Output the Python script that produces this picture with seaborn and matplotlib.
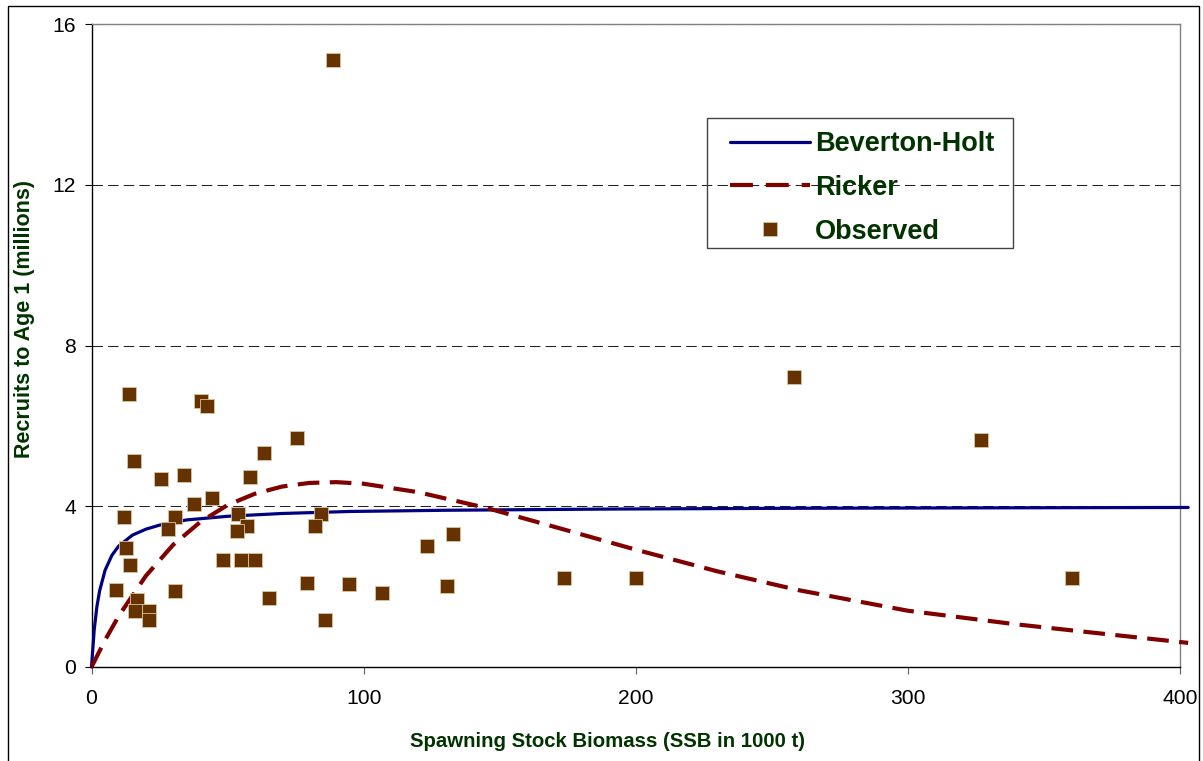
import matplotlib
matplotlib.use("Agg")
import matplotlib.pyplot as plt
from matplotlib.lines import Line2D
from matplotlib.patches import Rectangle
import seaborn as sns
import pandas as pd

# ---- data ----
obs_ssb = [13.8, 40.1, 42.5, 75.5, 63.5, 15.5, 25.7, 34.1, 58.2, 37.7, 44.3,
           11.9, 30.6, 54.0, 28.1, 57.0, 53.4, 84.5, 82.2, 12.6, 14.3, 48.2,
           55.1, 60.0, 9.0, 30.6, 16.7, 79.1, 94.6, 65.3, 16.1, 21.0, 21.0,
           85.8, 106.6, 88.6, 123.3, 132.9, 130.6, 173.7, 200.1, 258.2, 326.9, 360.4]
obs_rec = [6.79, 6.62, 6.50, 5.70, 5.32, 5.12, 4.69, 4.78, 4.73, 4.06, 4.20,
           3.73, 3.73, 3.81, 3.43, 3.51, 3.39, 3.81, 3.51, 2.97, 2.54, 2.67,
           2.67, 2.67, 1.92, 1.88, 1.67, 2.09, 2.06, 1.72, 1.39, 1.39, 1.17,
           1.17, 1.85, 15.1, 3.01, 3.31, 2.01, 2.22, 2.22, 7.22, 5.65, 2.22]

bh_ssb = [0, 1, 2, 3, 5, 7.5, 10, 15, 20, 25, 35, 50, 70, 95, 130, 190, 260, 330, 403]
bh_rec = [0, 0.93, 1.51, 1.90, 2.41, 2.78, 3.01, 3.28, 3.43, 3.53, 3.66, 3.75,
          3.82, 3.87, 3.90, 3.93, 3.95, 3.96, 3.97]

rk_ssb = [0, 5, 10, 20, 30, 40, 50, 60, 70, 80, 90, 100, 120, 145, 170, 200,
          230, 260, 300, 340, 370, 403]
rk_rec = [0, 0.67, 1.27, 2.27, 3.04, 3.61, 4.03, 4.31, 4.49, 4.58, 4.60, 4.56,
          4.35, 3.96, 3.49, 2.92, 2.38, 1.91, 1.40, 1.06, 0.84, 0.60]

x_ticks = [0, 100, 200, 300, 400]
y_ticks = [0, 4, 8, 12, 16]
series_names = ["Beverton-Holt", "Ricker", "Observed"]
x_label = "Spawning Stock Biomass (SSB in 1000 t)"
y_label = "Recruits to Age 1 (millions)"

# ---- styling ----
sns.set_style("white")
plt.rcParams["font.family"] = ["Liberation Sans", "DejaVu Sans"]

W, H = 1203, 761
fig = plt.figure(figsize=(W / 100, H / 100), dpi=100)
x0, x1, ytop, ybot = 91.5, 1180, 24, 667
ax = fig.add_axes([x0 / W, (H - ybot) / H, (x1 - x0) / W, (ybot - ytop) / H])

GREEN = "#003300"
NAVY = "#000080"
RED = "#800000"
BROWN = "#663300"

bh = pd.DataFrame({"ssb": bh_ssb, "rec": bh_rec})
rk = pd.DataFrame({"ssb": rk_ssb, "rec": rk_rec})
obs = pd.DataFrame({"ssb": obs_ssb, "rec": obs_rec})

sns.lineplot(data=bh, x="ssb", y="rec", ax=ax, color=NAVY, lw=2.3,
             estimator=None, sort=False, clip_on=False, zorder=3)
sns.lineplot(data=rk, x="ssb", y="rec", ax=ax, color=RED, lw=3.0,
             estimator=None, sort=False, clip_on=False, zorder=3)
ax.lines[-1].set_dashes((5.2, 2.5))
sns.scatterplot(data=obs, x="ssb", y="rec", ax=ax, marker="s", s=100,
                color=BROWN, edgecolor="#d8c4a4", linewidth=0.6, zorder=4,
                clip_on=False)

ax.set_xlim(0, 400)
ax.set_ylim(0, 16)
ax.set_xticks(x_ticks)
ax.set_yticks(y_ticks)
ax.set_xlabel("")
ax.set_ylabel("")
ax.tick_params(axis="both", labelsize=15.2, direction="out", length=5, width=0.8,
               labelcolor="black")
ax.tick_params(axis="y", pad=6, color="black", left=True)
ax.tick_params(axis="x", pad=10.5, color="#606060", bottom=True)

ax.yaxis.grid(True, linestyle=(0, (10, 5)), color="#222222", lw=0.75)
ax.set_axisbelow(True)
for side in ["left", "bottom"]:
    ax.spines[side].set_color("black")
    ax.spines[side].set_linewidth(1.0)
for side in ["right", "top"]:
    ax.spines[side].set_color("#808080")
    ax.spines[side].set_linewidth(1.0)

# axis titles
fig.text(607 / W, (H - 747) / H, x_label, ha="center", va="baseline",
         fontsize=14.7, fontweight="bold", color=GREEN)
fig.text(25 / W, (H - 319) / H, y_label, ha="center", va="center",
         rotation=90, fontsize=15.5, fontweight="bold", color=GREEN)

# legend
handles = [
    Line2D([], [], color=NAVY, lw=2.3),
    Line2D([], [], color=RED, lw=3.0, dashes=(5.5, 3.1)),
    Line2D([], [], color=BROWN, marker="s", ms=10, lw=0,
           markeredgecolor="#d8c4a4", markeredgewidth=0.6),
]
leg = ax.legend(handles, series_names, loc="upper left",
                bbox_to_anchor=((730 - x0) / (x1 - x0), (ybot - 131) / (ybot - ytop)),
                borderaxespad=0, borderpad=0, frameon=False,
                handlelength=2.95, handletextpad=0.2, labelspacing=0.66,
                prop={"family": "Liberation Sans", "weight": "bold", "size": 19.5})
for t in leg.get_texts():
    t.set_color(GREEN)
fig.patches.append(Rectangle((707 / W, (H - 248) / H), (1013 - 707) / W, (248 - 118) / H,
                             transform=fig.transFigure, fill=False,
                             edgecolor="#444444", lw=1.0, zorder=5))

# outer figure frame
fig.patches.append(Rectangle((8 / W, -10 / H), (1199 - 8) / W, (H - 6 + 10) / H,
                             transform=fig.transFigure, fill=False,
                             edgecolor="black", lw=1.0))

fig.savefig("out.png", dpi=100)
